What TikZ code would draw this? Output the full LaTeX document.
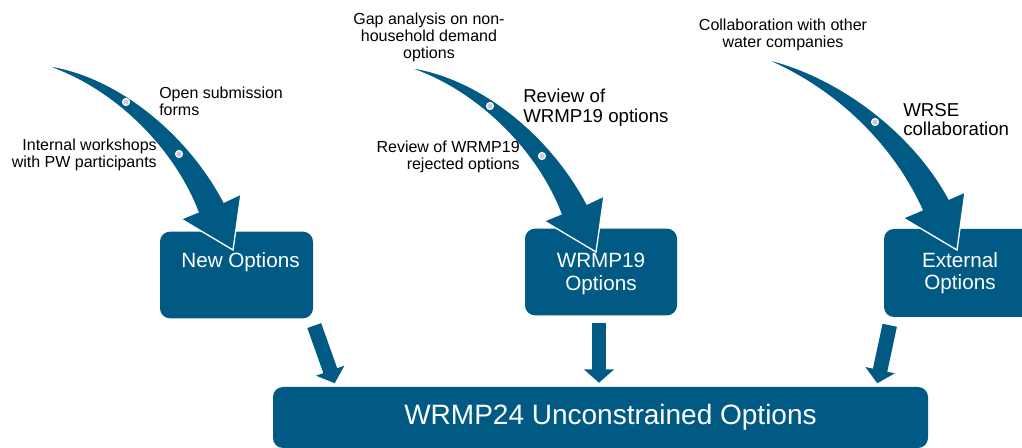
\documentclass[tikz,border=0pt]{standalone}
\usepackage{fontspec}
\setmainfont{Liberation Sans}
\usetikzlibrary{arrows.meta}
\usetikzlibrary{calc}

\begin{document}
\begin{tikzpicture}[x=0.75pt,y=0.75pt,yscale=-1,
    optbox/.style={rectangle, rounded corners=7.5pt, fill={rgb, 255:red, 1; green, 90; blue, 132}, text=white, minimum width=114pt, minimum height=65pt, inner sep=0pt, font=\fontsize{15.5}{17}\selectfont},
    lbl/.style={inner sep=0pt, font=\fontsize{12}{12.5}\selectfont},
    biglbl/.style={inner sep=0pt, font=\fontsize{14}{14.5}\selectfont},
    bendarrow/.style={fill={rgb, 255:red, 1; green, 90; blue, 132}, draw=white, line width=1pt, line join=miter},
    stone/.style={fill={rgb, 255:red, 196; green, 204; blue, 214}, draw=white, line width=0.9pt},
    feed/.style={draw={rgb, 255:red, 1; green, 90; blue, 132}, line width=11pt, -{Triangle[width=22pt,length=10pt]}}
  ]
    \useasboundingbox (0,0) rectangle (1022,448);
    %Option boxes
    \node[optbox, minimum width=114.75pt, text depth=23pt] (new) at (236.5,275) {\hspace*{6pt}New Options};
    \node[optbox, align=center, text depth=0pt] (wrmp) at (601,272) {WRMP19\\Options};
    \node[optbox, align=center, minimum height=66pt] (ext) at (960,273) {External\\Options};
    \node[optbox, minimum width=491.25pt, minimum height=45.75pt, font=\fontsize{21}{23}\selectfont] (unc) at (600.5,417.5) {\hspace*{15pt}WRMP24 Unconstrained Options};
    %Curved arrow: new options
    \draw[bendarrow] (43,65) .. controls (110,72) and (185,128) .. (224,202) -- (241,194) -- (233,250) -- (181,219) -- (198,212) .. controls (172,145) and (110,86) .. (43,65) -- cycle;
    \draw[stone] (126,102) circle [radius=2.6pt];
    \draw[stone] (179,154) circle [radius=2.6pt];
    %Curved arrow: WRMP19 options
    \draw[bendarrow] (406,67) .. controls (473,74) and (548,130) .. (587,204) -- (604,196) -- (596,252) -- (544,221) -- (561,214) .. controls (535,147) and (473,88) .. (406,67) -- cycle;
    \draw[stone] (490,106) circle [radius=2.6pt];
    \draw[stone] (542,156) circle [radius=2.6pt];
    %Curved arrow: external options
    \draw[bendarrow] (762,58) .. controls (840,75) and (915,135) .. (949,199) -- (965,192) -- (957,250) -- (903,218) -- (922,210) .. controls (895,150) and (840,90) .. (762,58) -- cycle;
    \draw[stone] (875,122) circle [radius=2.6pt];
    %Labels
    \node[lbl, anchor=north west, align=left] (opensub) at (159,87) {Open submission\\forms};
    \node[lbl, anchor=north east, align=right] (workshops) at (157,139) {Internal workshops\\with PW participants};
    \node[lbl, anchor=north, align=center] (gap) at (429,13) {Gap analysis on non-\\household demand\\options};
    \node[biglbl, anchor=north west, align=left] (review) at (523,89) {Review of\\WRMP19 options};
    \node[lbl, anchor=north east, align=right] (rejected) at (520,141) {Review of WRMP19\\rejected options};
    \node[lbl, anchor=north, align=center] (collab) at (783,19) {Collaboration with other\\water companies};
    \node[biglbl, anchor=north west, align=left] (wrse) at (903,103) {WRSE\\collaboration};
    %Feeds into unconstrained list
    \draw[feed] ($(new.south east)+(1,7)$) -- ($(unc.north west)+(62,-3.5)$);
    \draw[feed] ($(wrmp.south)+(-2,7)$) -- ($(unc.north)+(-1.5,-4)$);
    \draw[feed] ($(ext.south west)+(6,8)$) -- ($(unc.north east)+(-51,-3.5)$);
\end{tikzpicture}
\end{document}
